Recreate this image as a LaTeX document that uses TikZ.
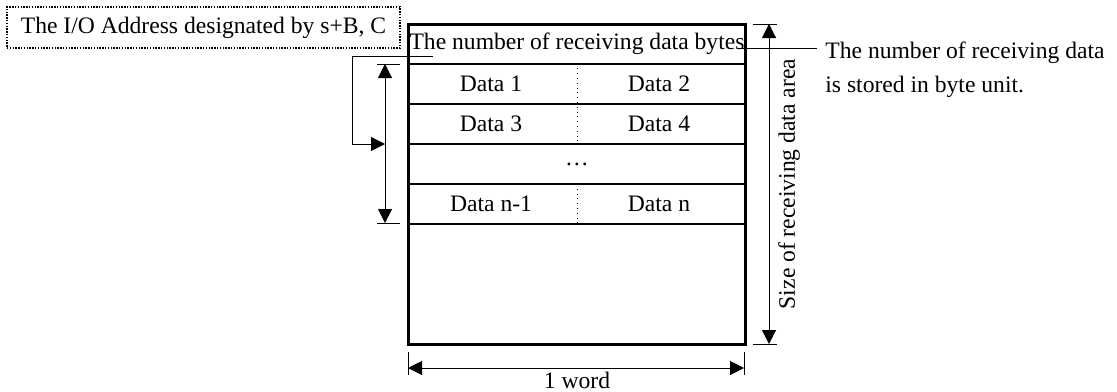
\documentclass[tikz,border=0pt]{standalone}
\usepackage{fontspec}
\setmainfont{Liberation Serif}
\usetikzlibrary{arrows.meta}
\begin{document}
\begin{tikzpicture}[x=0.5pt,y=-0.5pt,
  txt/.style={font=\fontsize{11.8}{14}\selectfont, inner sep=0pt},
  thinline/.style={line width=0.5pt},
  rowline/.style={line width=1pt},
  tipA/.tip={Triangle[length=7pt,width=7pt]},
  dimarrow/.style={thinline, tipA-tipA},
  onearrow/.style={thinline, -tipA},
]
\useasboundingbox (0,0) rectangle (1117,391);

% main memory box
\node[draw, line width=1.5pt, minimum width=168.5pt, minimum height=160pt, inner sep=0pt] (box) at (576.5,184.5) {};

% row separators
\coordinate (r1w) at (408,63.5);  \coordinate (r1e) at (745,63.5);
\coordinate (r2w) at (408,104);   \coordinate (r2e) at (745,104);
\coordinate (r3w) at (408,144);   \coordinate (r3e) at (745,144);
\coordinate (r4w) at (408,184);   \coordinate (r4e) at (745,184);
\coordinate (r5w) at (408,224);   \coordinate (r5e) at (745,224);
\draw[rowline] (r1w) -- (r1e);
\draw[rowline] (r2w) -- (r2e);
\draw[rowline] (r3w) -- (r3e);
\draw[rowline] (r4w) -- (r4e);
\draw[rowline] (r5w) -- (r5e);

% dotted column dividers
\coordinate (d1t) at (577,63.5); \coordinate (d1b) at (577,144);
\coordinate (d2t) at (577,184);  \coordinate (d2b) at (577,224);
\draw[line width=0.4pt, dotted] (d1t) -- (d1b);
\draw[line width=0.4pt, dotted] (d2t) -- (d2b);

% cell texts
\node[txt] (hdr) at (577,44) {The number of receiving data bytes};
\node[txt] (c1) at (491,84) {Data 1};
\node[txt] (c2) at (659,84) {Data 2};
\node[txt] (c3) at (491,124) {Data 3};
\node[txt] (c4) at (659,124) {Data 4};
\node[txt] (c5) at (577,164) {…};
\node[txt] (c6) at (491,204) {Data n-1};
\node[txt] (c7) at (659,204) {Data n};

% dotted address label
\node[draw, line width=0.7pt, dash pattern=on 0.7pt off 0.7pt, minimum width=196.5pt, minimum height=20.5pt, inner sep=0pt, font=\fontsize{11.8}{14}\selectfont] (addr) at (203.5,27.5) {The I/O Address designated by s+B, C};

% bracket from address to data start
\coordinate (b0) at (433,56.5);
\coordinate (b1) at (352,56.5);
\coordinate (b2) at (352,144);
\coordinate (b3) at (385,144);
\draw[onearrow] (b0) -- (b1) -- (b2) -- (b3);

% left vertical dimension
\coordinate (lt1) at (377,64);  \coordinate (lt2) at (400,64);
\coordinate (lb1) at (377,223); \coordinate (lb2) at (400,223);
\coordinate (la) at (385,64);   \coordinate (lb) at (385,223);
\draw[thinline] (lt1) -- (lt2);
\draw[thinline] (lb1) -- (lb2);
\draw[dimarrow] (la) -- (lb);

% right vertical dimension
\coordinate (rt1) at (753,24);  \coordinate (rt2) at (777,24);
\coordinate (rb1) at (753,344); \coordinate (rb2) at (777,344);
\coordinate (ra) at (769,24);   \coordinate (rb) at (769,344);
\draw[thinline] (rt1) -- (rt2);
\draw[thinline] (rb1) -- (rb2);
\draw[dimarrow] (ra) -- (rb);
\node[txt, rotate=90] (size) at (789,184) {Size of receiving data area};

% leader to note
\coordinate (n0) at (737,48);
\coordinate (n1) at (817,48);
\draw[thinline] (n0) -- (n1);
\node[txt, anchor=base west] (note1) at (825,58) {The number of receiving data};
\node[txt, anchor=base west] (note2) at (825,92) {is stored in byte unit.};

% bottom dimension
\coordinate (bt1) at (408,352); \coordinate (bt2) at (408,375);
\coordinate (bt3) at (744,352); \coordinate (bt4) at (744,375);
\coordinate (ba) at (408,368);  \coordinate (bb) at (744,368);
\draw[thinline] (bt1) -- (bt2);
\draw[thinline] (bt3) -- (bt4);
\draw[dimarrow] (ba) -- (bb);
\node[txt, anchor=base] (word) at (577,388) {1 word};
\end{tikzpicture}
\end{document}
